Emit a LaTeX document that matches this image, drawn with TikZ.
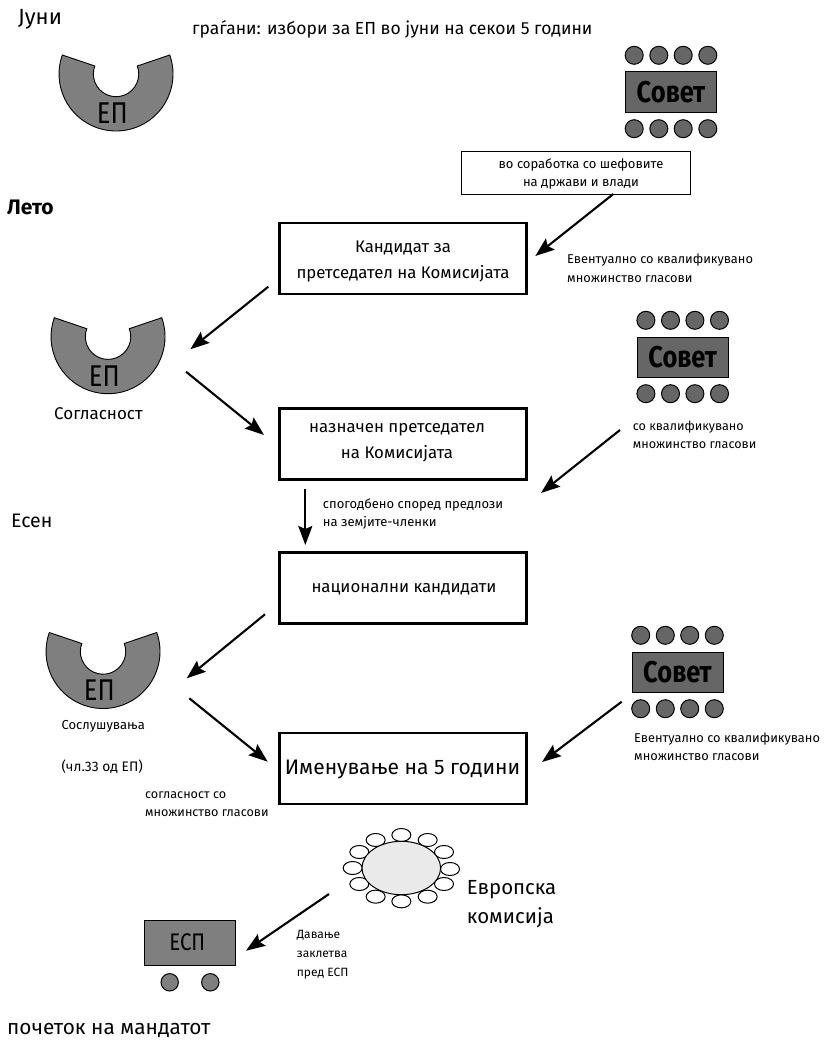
\documentclass[tikz,border=0pt]{standalone}
\usepackage{fontspec}
\setmainfont{Fira Sans}
\newfontfamily\narrowf[FakeStretch=0.85]{Fira Sans}
\usetikzlibrary{arrows.meta,shapes.geometric}
\newcommand{\fsz}[2]{\fontsize{#1}{#2}\selectfont}
\definecolor{epgray}{HTML}{7F7F7F}
\definecolor{svgray}{HTML}{666666}
\definecolor{tbgray}{HTML}{EAEAEA}
\tikzset{
  lbl/.style={anchor=west,inner sep=0pt,align=left},
  ctr/.style={anchor=center,inner sep=0pt,align=center},
  bigbox/.style={draw,line width=2.4pt,fill=white,inner sep=0pt},
  arr/.style={line width=2.1pt,-{Stealth[length=19pt,width=14pt,inset=3pt]}},
  dot/.style={circle,draw,line width=1pt,fill=svgray,minimum size=18pt,inner sep=0pt},
  seat/.style={ellipse,draw,line width=1pt,fill=white,minimum width=19pt,minimum height=13pt,inner sep=0pt},
}
\newcommand{\epshape}[3]{%
  \begin{scope}[shift={(#2,#3)}]
    \path[draw,line width=.9pt,fill=epgray] (-53.7,-19) arc[start angle=160.5,end angle=379.5,radius=57pt]
      -- (21.3,-8) arc[start angle=20.6,end angle=-200.6,radius=22.7pt] -- cycle;
    \node[ctr,font=\narrowf\fsz{30}{30}] (#1) at (-3.7,39) {ЕП};
  \end{scope}}
\newcommand{\sovet}[3]{%
  \begin{scope}[shift={(#2,#3)}]
    \node[draw,line width=1pt,fill=svgray,minimum width=91pt,minimum height=40pt,inner sep=0pt,font=\narrowf\bfseries\fsz{30}{30}] (#1) at (0,0) {Совет};
    \foreach \k/\dx in {a/-36.8,b/-12.2,c/12.2,d/36.8}{
      \node[dot] (#1t\k) at (\dx,-36.7) {};
      \node[dot] (#1b\k) at (\dx,36.7) {};
    }
  \end{scope}}
\begin{document}
\begin{tikzpicture}[x=1pt,y=-1pt]
\useasboundingbox (0,0) rectangle (823,1041);

% headings
\node[lbl,font=\fsz{22}{24}] (juni) at (18,19) {Јуни};
\node[lbl,font=\fsz{17.5}{18}] (top) at (192,29) {граѓани: избори за ЕП во јуни на секои 5 години};
\node[lbl,font=\bfseries\fsz{21}{22}] (leto) at (7,207) {Лето};
\node[lbl,font=\fsz{19.5}{22}] (esen) at (11,521) {Есен};
\node[lbl,font=\fsz{20.8}{24}] (pocetok) at (7,1030) {почеток на мандатот};

% Parliament
\epshape{epa}{116}{74}
\epshape{epb}{108}{336.7}
\epshape{epc}{103}{651.5}

% Council
\sovet{sva}{671}{92}
\sovet{svb}{682.7}{357}
\sovet{svc}{677.5}{672}

% boxes
\node[bigbox,minimum width=247pt,minimum height=71pt] (b1) at (403,258.5) {};
\node[bigbox,minimum width=247pt,minimum height=71pt] (b2) at (403,444) {};
\node[bigbox,minimum width=247pt,minimum height=71pt] (b3) at (403,588) {};
\node[bigbox,minimum width=247pt,minimum height=71pt] (b4) at (403,768.5) {};
\node[draw,line width=1pt,fill=white,minimum width=229pt,minimum height=43pt,inner sep=0pt] (sb) at (575.5,172.5) {};

\node[ctr,font=\fsz{16.8}{26}] (b1t) at (403,261) {Кандидат за\\претседател на Комисијата};
\node[ctr,font=\fsz{16.8}{26}] (b2t) at (397,443) {назначен претседател\\на Комисијата};
\node[ctr,font=\fsz{16.8}{26}] (b3t) at (404,589) {национални кандидати};
\node[ctr,font=\fsz{21}{26}] (b4t) at (402.5,769) {Именување на 5 години};
\node[ctr,font=\fsz{13}{18}] (sbt) at (581,174.5) {во соработка со шефовите\\на држави и влади};

% small labels
\node[lbl,font=\fsz{12.8}{19}] (l1) at (567,268.5) {Евентуално со квалификувано\\множинство гласови};
\node[lbl,font=\fsz{17}{18}] (l2) at (54,414) {Согласност};
\node[lbl,font=\fsz{12.6}{18}] (l3) at (632.7,435) {со квалификувано\\множинство гласови};
\node[lbl,font=\fsz{13}{18.3}] (l4) at (322.7,514) {спогодбено според предлози\\на земјите-членки};
\node[lbl,font=\fsz{13}{18}] (l5) at (61.3,726.7) {Сослушувања};
\node[lbl,font=\fsz{13.8}{18}] (l6) at (61.3,766.7) {(чл.33 од ЕП)};
\node[lbl,font=\fsz{12.6}{18.6}] (l7) at (145,804.3) {согласност со\\множинство гласови};
\node[lbl,font=\fsz{12.8}{17.6}] (l8) at (634,746.5) {Евентуално со квалификувано\\множинство гласови};
\node[lbl,font=\fsz{20.4}{28.7}] (l9) at (466.7,904.3) {Европска\\комисија};
\node[lbl,font=\fsz{12}{18.8}] (l10) at (296.7,954.5) {Давање\\заклетва\\пред ЕСП};

% table
\foreach \n/\X/\Y in {a/304/75,b/227/90,c/383/90,d/178/126,e/432/126,f/158/174,g/450/177,h/178/222,i/432/222,j/227/260,k/383/260,l/304/274}{
  \node[seat] (seat\n) at ({300+\X/3},{810+\Y/3}) {};
}
\node[ellipse,draw,line width=1pt,fill=tbgray,minimum width=78.6pt,minimum height=53.4pt,inner sep=0pt] (table) at (401.3,868) {};

% ESP
\node[draw,line width=1pt,fill=epgray,minimum width=90.7pt,minimum height=45.3pt,inner sep=0pt] (esp) at (190.3,943.3) {};
\node[ctr,font=\narrowf\fsz{24}{24}] (espt) at (187.3,942.7) {ЕСП};
\node[dot,fill=epgray,minimum size=17.4pt] (espa) at (169.7,982.3) {};
\node[dot,fill=epgray,minimum size=17.4pt] (espb) at (210.3,982.3) {};

% arrow ends
\coordinate (a1s) at (613.3,194); \coordinate (a1e) at (535.3,256);
\coordinate (a2s) at (268.3,286.7); \coordinate (a2e) at (190.3,349.3);
\coordinate (a3s) at (186,371.7); \coordinate (a3e) at (264,435);
\coordinate (a4s) at (620,430); \coordinate (a4e) at (541,493);
\coordinate (a5s) at (305.3,489); \coordinate (a5e) at (305.3,545);
\coordinate (a6s) at (265,614.3); \coordinate (a6e) at (186.7,678.3);
\coordinate (a7s) at (189.3,698.3); \coordinate (a7e) at (267.7,761.7);
\coordinate (a8s) at (621.7,701.7); \coordinate (a8e) at (542,762);
\coordinate (a9s) at (329,894); \coordinate (a9e) at (246,950.7);
\foreach \i in {1,...,9}{ \draw[arr] (a\i s) -- (a\i e); }
\end{tikzpicture}
\end{document}
